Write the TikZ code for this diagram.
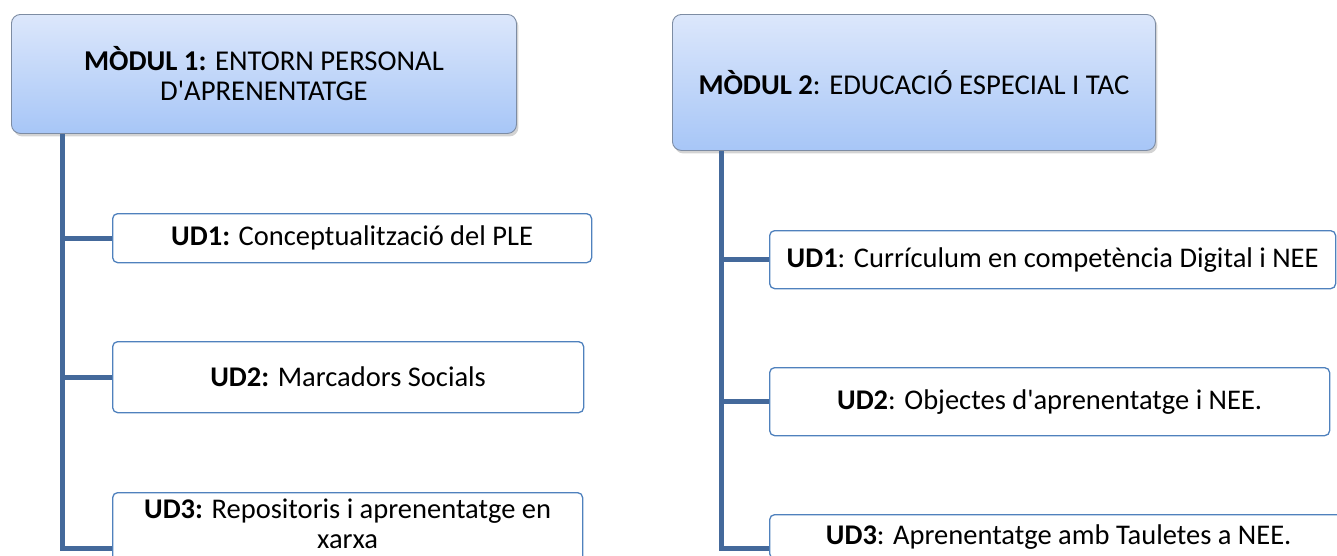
\documentclass[tikz,border=0pt]{standalone}
\usepackage{fontspec}
\setmainfont{Carlito}[Ligatures=TeXOff]
\usetikzlibrary{shadows}
\definecolor{conn}{HTML}{44699B}
\definecolor{udb}{HTML}{4F81BD}
\definecolor{modtop}{HTML}{DCE7FB}
\definecolor{modbot}{HTML}{A7C6F7}
\definecolor{modborder}{HTML}{7D8CA3}
\begin{document}
\begin{tikzpicture}[x=1pt,y=-1pt,
  module/.style={draw=modborder, line width=0.9pt, rounded corners=9pt,
    top color=modtop, bottom color=modbot, anchor=north west, inner sep=0pt,
    align=center, font=\fontsize{28.7}{30}\selectfont,
    drop shadow={opacity=0.35, shadow xshift=2pt, shadow yshift=-3pt}},
  unit/.style={draw=udb, line width=1.3pt, rounded corners=5pt, fill=white,
    anchor=north west, inner sep=0pt, align=center,
    font=\fontsize{28.5}{30}\selectfont},
  link/.style={draw=conn, line width=5pt}]
\useasboundingbox (0,0) rectangle (1337,555);
\clip (0,0) rectangle (1337,555);

% Module 1
\node[module, minimum width=505pt, minimum height=119pt] (m1) at (11,14)
  {\textbf{MÒDUL 1:} ENTORN PERSONAL\\D'APRENENTATGE};
\node[unit, minimum width=479pt, minimum height=49pt] (a1) at (112,213)
  {\textbf{UD1:} Conceptualització del PLE};
\node[unit, minimum width=471pt, minimum height=71pt] (a2) at (112,341)
  {\textbf{UD2:} Marcadors Socials};
\node[unit, minimum width=470pt, minimum height=75pt] (a3) at (112,492)
  {\textbf{UD3:} Repositoris i aprenentatge en\\xarxa\rule[-12pt]{0pt}{0pt}};
\coordinate (t1) at (62,548);
\draw[link] (m1.south -| t1) -- (t1) -- (a3.west |- t1);
\draw[link] (a1.west -| t1) -- (a1.west);
\draw[link] (a2.west -| t1) -- (a2.west);

% Module 2
\node[module, minimum width=483pt, minimum height=136pt] (m2) at (672,14)
  {\textbf{MÒDUL 2}: EDUCACIÓ ESPECIAL I TAC};
\node[unit, minimum width=566pt, minimum height=58pt] (b1) at (769,230)
  {\textbf{UD1}: Currículum en competència Digital i NEE};
\node[unit, minimum width=560pt, minimum height=68pt] (b2) at (769,367)
  {\textbf{UD2}: Objectes d'aprenentatge i NEE.};
\node[unit, minimum width=578pt, minimum height=44pt] (b3) at (769,514)
  {\textbf{UD3}: Aprenentatge amb Tauletes a NEE.};
\coordinate (t2) at (721,548);
\draw[link] (m2.south -| t2) -- (t2) -- (b3.west |- t2);
\draw[link] (b1.west -| t2) -- (b1.west);
\draw[link] (b2.west -| t2) -- (b2.west);
\end{tikzpicture}
\end{document}
